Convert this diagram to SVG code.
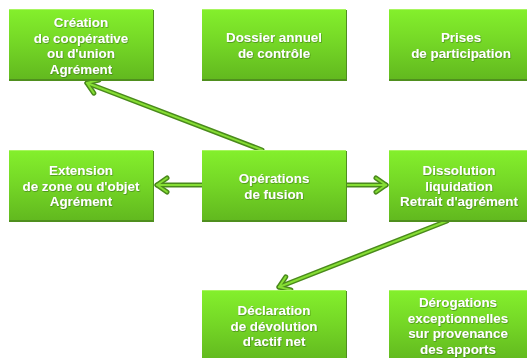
<svg xmlns="http://www.w3.org/2000/svg" width="527" height="358" viewBox="0 0 527 358">
<style>
.box rect.b{fill:url(#g);}
.box rect.s{fill:#4f8f1e;}
.box rect.t{fill:#a8f560;}
.box text{font-family:"Liberation Sans",Arial,sans-serif;font-weight:bold;font-size:13.4px;fill:#ffffff;text-anchor:middle;filter:url(#ts);}
.c1{fill:none;stroke:#4a8a1c;stroke-width:5;stroke-linecap:round;}
.c2{fill:none;stroke:#86de34;stroke-width:2;stroke-linecap:round;}
</style>
<defs>
<linearGradient id="g" x1="0" y1="0" x2="0" y2="1">
<stop offset="0" stop-color="#84f02c"/>
<stop offset="0.5" stop-color="#74d626"/>
<stop offset="1" stop-color="#62b91f"/>
</linearGradient>
<filter id="ts" x="-10%" y="-20%" width="120%" height="150%">
<feDropShadow dx="0.6" dy="0.8" stdDeviation="0.4" flood-color="#2e5a0c" flood-opacity="0.6"/>
</filter>
<marker id="m1" markerUnits="userSpaceOnUse" markerWidth="24" markerHeight="24" refX="19" refY="12" orient="auto" viewBox="0 0 24 24">
<path d="M9 5 L19 12 L9 19" fill="none" stroke="#4a8a1c" stroke-width="5" stroke-linecap="round" stroke-linejoin="round"/>
</marker>
<marker id="m2" markerUnits="userSpaceOnUse" markerWidth="24" markerHeight="24" refX="19" refY="12" orient="auto" viewBox="0 0 24 24">
<path d="M9 5 L19 12 L9 19" fill="none" stroke="#86de34" stroke-width="2" stroke-linecap="round" stroke-linejoin="round"/>
</marker>
</defs>
<rect width="527" height="358" fill="#ffffff"/>

<g id="connectors">
<path class="c1" d="M262 150 L87 83" marker-end="url(#m1)"/>
<path class="c1" d="M202 185 L157 185" marker-end="url(#m1)"/>
<path class="c1" d="M346 185 L386 185" marker-end="url(#m1)"/>
<path class="c1" d="M447 221 L279 287" marker-end="url(#m1)"/>
<path class="c2" d="M262 150 L87 83" marker-end="url(#m2)"/>
<path class="c2" d="M202 185 L157 185" marker-end="url(#m2)"/>
<path class="c2" d="M346 185 L386 185" marker-end="url(#m2)"/>
<path class="c2" d="M447 221 L279 287" marker-end="url(#m2)"/>
</g>

<g id="n1" class="box"><rect class="s" x="9" y="10" width="145" height="71"/><rect class="b" x="9" y="9" width="144" height="70"/><rect class="t" x="9" y="9" width="144" height="1"/>
<text x="81" y="27">Création</text><text x="81" y="42.5">de coopérative</text><text x="81" y="58">ou d'union</text><text x="81" y="73.5">Agrément</text></g>

<g id="n2" class="box"><rect class="s" x="202" y="10" width="145" height="71"/><rect class="b" x="202" y="9" width="144" height="70"/><rect class="t" x="202" y="9" width="144" height="1"/>
<text x="274" y="42">Dossier annuel</text><text x="274" y="57.5">de contrôle</text></g>

<g id="n3" class="box"><rect class="s" x="389" y="10" width="145" height="71"/><rect class="b" x="389" y="9" width="144" height="70"/><rect class="t" x="389" y="9" width="144" height="1"/>
<text x="461" y="42">Prises</text><text x="461" y="57.5">de participation</text></g>

<g id="n4" class="box"><rect class="s" x="9" y="151" width="145" height="71"/><rect class="b" x="9" y="150" width="144" height="70"/><rect class="t" x="9" y="150" width="144" height="1"/>
<text x="81" y="175">Extension</text><text x="81" y="190.5">de zone ou d'objet</text><text x="81" y="206">Agrément</text></g>

<g id="n5" class="box"><rect class="s" x="202" y="151" width="145" height="71"/><rect class="b" x="202" y="150" width="144" height="70"/><rect class="t" x="202" y="150" width="144" height="1"/>
<text x="274" y="183">Opérations</text><text x="274" y="198.5">de fusion</text></g>

<g id="n6" class="box"><rect class="s" x="389" y="151" width="145" height="71"/><rect class="b" x="389" y="150" width="144" height="70"/><rect class="t" x="389" y="150" width="144" height="1"/>
<text x="459" y="175">Dissolution</text><text x="459" y="190.5">liquidation</text><text x="459" y="206">Retrait d'agrément</text></g>

<g id="n7" class="box"><rect class="s" x="202" y="291" width="145" height="71"/><rect class="b" x="202" y="290" width="144" height="70"/><rect class="t" x="202" y="290" width="144" height="1"/>
<text x="274" y="315">Déclaration</text><text x="274" y="330.5">de dévolution</text><text x="274" y="346">d'actif net</text></g>

<g id="n8" class="box"><rect class="s" x="389" y="291" width="145" height="71"/><rect class="b" x="389" y="290" width="144" height="70"/><rect class="t" x="389" y="290" width="144" height="1"/>
<text x="458" y="307">Dérogations</text><text x="458" y="322.5">exceptionnelles</text><text x="458" y="338">sur provenance</text><text x="458" y="353.5">des apports</text></g>
</svg>
